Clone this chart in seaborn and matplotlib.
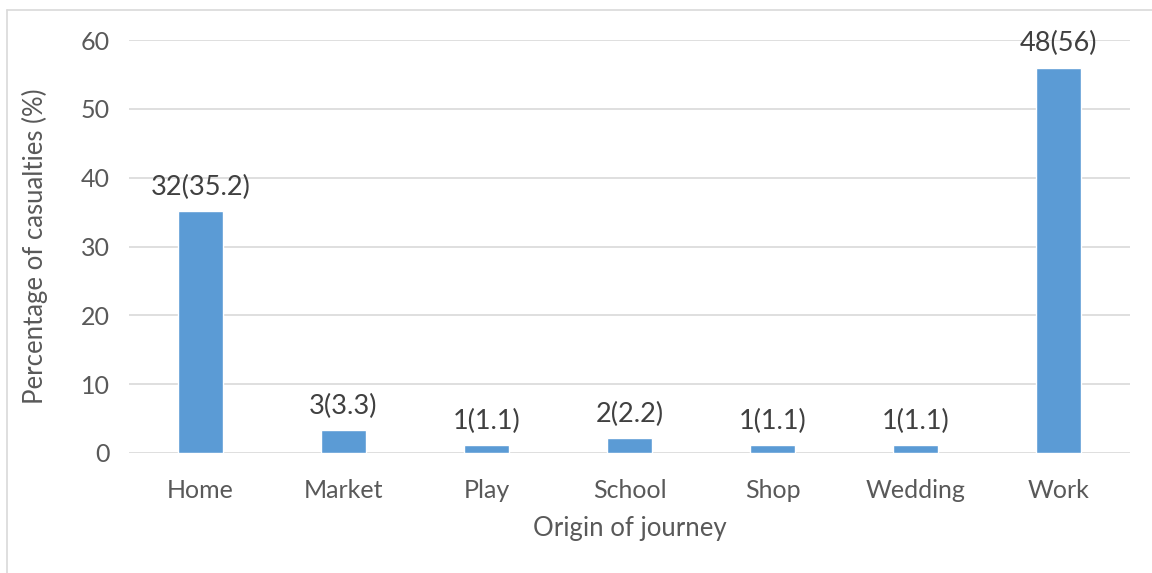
import matplotlib
matplotlib.use("Agg")
import matplotlib.pyplot as plt
import seaborn as sns
import pandas as pd
from matplotlib.lines import Line2D

categories = ["Home", "Market", "Play", "School", "Shop", "Wedding", "Work"]
percentages = [35.2, 3.3, 1.1, 2.2, 1.1, 1.1, 56]
counts = [32, 3, 1, 2, 1, 1, 48]

sns.set_theme(style="white")
plt.rcParams['font.family'] = ['Lato', 'DejaVu Sans']

df = pd.DataFrame({"Origin": categories, "Pct": percentages})

fig = plt.figure(figsize=(11.52, 5.73), dpi=100)
ax = fig.add_axes([129/1152, 1-453/573, (1130-129)/1152, (453-40)/573])

sns.barplot(data=df, x="Origin", y="Pct", color="#5B9BD5", saturation=1,
            width=0.315, ax=ax, zorder=3)

ax.set_ylim(0, 60)
ax.set_xlim(-0.5, len(categories)-0.5)
ax.set_yticks(range(0, 61, 10))
ax.yaxis.grid(True, color="#D9D9D9", linewidth=1.2, zorder=0)
ax.xaxis.grid(False)
for s in ax.spines.values():
    s.set_visible(False)
ax.tick_params(axis="both", length=0, labelsize=18, colors="#595959")
ax.tick_params(axis="y", pad=14)
ax.tick_params(axis="x", pad=19)

for i, (p, c) in enumerate(zip(percentages, counts)):
    ax.annotate(f"{c}({p:g})", xy=(i, p), xytext=(0, 8), textcoords="offset points",
                ha="center", va="bottom", fontsize=19.5, color="#404040")

ax.set_xlabel("Origin of journey", fontsize=18.5, color="#595959", labelpad=10)
ax.set_ylabel("Percentage of casualties (%)", fontsize=18.5, color="#595959", labelpad=23)

# outer chart-area border (left and top edges visible)
fig.add_artist(Line2D([7/1152, 7/1152], [0, 1-10/573], transform=fig.transFigure,
                      color="#D9D9D9", linewidth=1.2))
fig.add_artist(Line2D([7/1152, 1], [1-10/573, 1-10/573], transform=fig.transFigure,
                      color="#D9D9D9", linewidth=1.2))

fig.savefig("out.png", dpi=100)
